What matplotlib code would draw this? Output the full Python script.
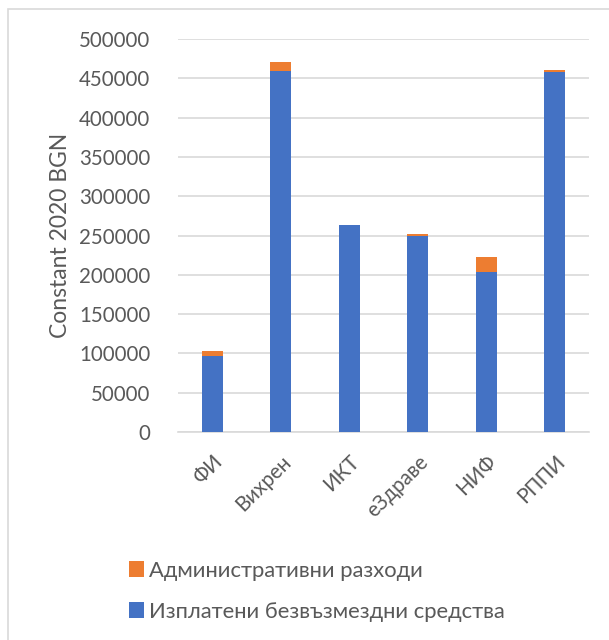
import matplotlib.pyplot as plt
from matplotlib.patches import Rectangle

categories = ["ФИ", "Вихрен", "ИКТ", "еЗдраве", "НИФ", "РППИ"]
grants = [97000, 459000, 263000, 250000, 204000, 458000]
admin = [6500, 11500, 400, 2000, 18500, 3000]
yticks = [0, 50000, 100000, 150000, 200000, 250000, 300000, 350000, 400000, 450000, 500000]

blue = "#4472C4"
orange = "#ED7D31"
grey_text = "#595959"

plt.rcParams['font.family'] = ['Lato', 'DejaVu Sans']

fig = plt.figure(figsize=(6.09, 6.4), dpi=100)
ax = fig.add_axes([178 / 609, 1 - 432 / 640, 411 / 609, 393 / 640])

x = range(len(categories))
ax.bar(x, grants, width=0.31, color=blue, label="Изплатени безвъзмездни средства", zorder=3)
ax.bar(x, admin, width=0.31, bottom=grants, color=orange, label="Административни разходи", zorder=3)

ax.set_xlim(-0.5, len(categories) - 0.5)
ax.set_ylim(0, 500000)
ax.set_yticks(yticks)
ax.set_yticklabels([str(t) for t in yticks])
ax.set_xticks(list(x))
ax.set_xticklabels(categories, rotation=45, ha="right", rotation_mode="anchor")

ax.grid(axis="y", color="#D9D9D9", linewidth=1.2, zorder=0)
for s in ["top", "right", "left"]:
    ax.spines[s].set_visible(False)
ax.spines["bottom"].set_color("#D9D9D9")
ax.spines["bottom"].set_linewidth(1.2)
ax.tick_params(axis="both", length=0, colors=grey_text, labelsize=14.8)
ax.tick_params(axis="y", pad=20)
ax.tick_params(axis="x", pad=14)

ax.set_ylabel("Constant 2020 BGN", color=grey_text, fontsize=16.5, labelpad=6)

handles, labels = ax.get_legend_handles_labels()
fig.legend(handles[::-1], labels[::-1], loc="upper center", bbox_to_anchor=(0.52, 1 - 541 / 640),
           frameon=False, fontsize=15.8, labelcolor=grey_text, handlelength=0.7, handleheight=0.7,
           handletextpad=0.2, labelspacing=0.95)

fig.patches.append(Rectangle((8 / 609, -0.01), 1.0, 1 - 9 / 640 + 0.01, transform=fig.transFigure,
                             fill=False, edgecolor="#D9D9D9", linewidth=1.2))

fig.savefig("out.png", dpi=100)
